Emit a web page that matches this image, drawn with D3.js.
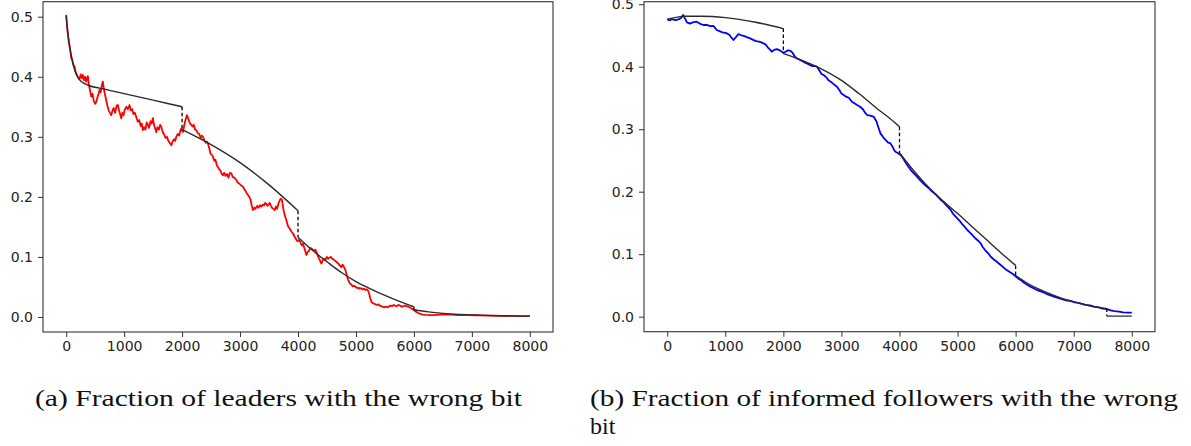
<!DOCTYPE html>
<html>
<head>
<meta charset="utf-8">
<script src="https://d3js.org/d3.v7.min.js"></script>
<style>
body { margin: 0; padding: 0; background: #fff; }
svg text { font-family: "DejaVu Sans", sans-serif; }
.caption { font-family: "Liberation Serif", "DejaVu Serif", serif; fill: #111; }
</style>
</head>
<body>
<svg id="chart" width="1191" height="446"></svg>
<script>
// ---- data ----
var xTicks = [0, 1000, 2000, 3000, 4000, 5000, 6000, 7000, 8000];
var yTicks = [0.0, 0.1, 0.2, 0.3, 0.4, 0.5];

// (a) leaders: simulated fraction (red)
var leadersSim = [
[0,0.503],[15,0.485],[28,0.472],[45,0.458],[69,0.445],[85,0.432],[104,0.428],[125,0.420],[143,0.417],[165,0.408],
[184,0.403],[205,0.399],[230,0.396],[250,0.404],[268,0.398],[287,0.403],[305,0.394],[325,0.400],[345,0.392],[360,0.398],
[374,0.401],[390,0.388],[410,0.378],[432,0.367],[455,0.372],[475,0.360],[500,0.355],[518,0.358],[540,0.366],[560,0.372],
[575,0.378],[595,0.374],[615,0.386],[633,0.392],[650,0.380],[670,0.370],[691,0.361],[710,0.352],[730,0.345],[755,0.340],
[777,0.336],[800,0.344],[820,0.348],[845,0.340],[870,0.352],[892,0.353],[910,0.345],[930,0.338],[950,0.331],[970,0.340],
[990,0.336],[1010,0.345],[1040,0.350],[1065,0.346],[1093,0.353],[1115,0.344],[1140,0.346],[1160,0.338],[1185,0.340],[1209,0.333],
[1235,0.325],[1260,0.328],[1285,0.318],[1305,0.322],[1324,0.311],[1345,0.316],[1368,0.312],[1390,0.324],[1410,0.320],[1430,0.315],
[1455,0.326],[1475,0.322],[1496,0.331],[1515,0.320],[1535,0.314],[1554,0.308],[1575,0.316],[1600,0.312],[1621,0.320],[1641,0.317],
[1665,0.308],[1690,0.304],[1715,0.298],[1740,0.300],[1760,0.294],[1785,0.290],[1813,0.286],[1835,0.292],[1860,0.296],[1880,0.293],
[1900,0.300],[1925,0.305],[1950,0.302],[1970,0.310],[1986,0.314],[2000,0.310],[2015,0.308],[2035,0.318],[2050,0.325],[2065,0.330],
[2083,0.336],[2100,0.332],[2120,0.326],[2140,0.322],[2159,0.320],[2180,0.317],[2200,0.320],[2225,0.312],[2245,0.311],[2270,0.306],
[2295,0.305],[2320,0.298],[2340,0.302],[2360,0.300],[2385,0.294],[2410,0.290],[2430,0.292],[2446,0.289],[2470,0.280],[2490,0.272],
[2515,0.270],[2532,0.267],[2555,0.260],[2575,0.262],[2600,0.252],[2618,0.250],[2640,0.246],[2660,0.244],[2685,0.238],[2705,0.236],
[2725,0.240],[2750,0.235],[2775,0.238],[2800,0.232],[2825,0.240],[2850,0.239],[2875,0.233],[2900,0.232],[2920,0.230],[2936,0.228],
[2960,0.224],[2985,0.222],[3010,0.220],[3030,0.218],[3051,0.217],[3075,0.212],[3095,0.210],[3115,0.206],[3137,0.203],[3160,0.200],
[3180,0.196],[3200,0.186],[3223,0.178],[3245,0.182],[3265,0.180],[3281,0.183],[3300,0.185],[3320,0.182],[3345,0.186],[3370,0.184],
[3390,0.187],[3415,0.186],[3435,0.190],[3454,0.188],[3475,0.185],[3495,0.188],[3512,0.190],[3530,0.186],[3550,0.182],[3575,0.180],
[3598,0.178],[3620,0.184],[3640,0.180],[3660,0.188],[3684,0.194],[3700,0.197],[3720,0.196],[3735,0.188],[3750,0.178],[3770,0.170],
[3800,0.161],[3825,0.152],[3850,0.148],[3870,0.145],[3890,0.142],[3914,0.139],[3940,0.134],[3965,0.130],[3990,0.126],[4010,0.128],
[4030,0.127],[4050,0.122],[4070,0.119],[4087,0.122],[4105,0.116],[4125,0.110],[4145,0.103],[4165,0.108],[4190,0.110],[4210,0.115],
[4231,0.114],[4255,0.112],[4280,0.110],[4300,0.112],[4318,0.108],[4340,0.102],[4360,0.098],[4380,0.094],[4404,0.089],[4425,0.094],
[4450,0.097],[4475,0.096],[4500,0.100],[4519,0.097],[4545,0.099],[4570,0.100],[4590,0.097],[4612,0.096],[4634,0.094],[4660,0.092],
[4685,0.090],[4710,0.087],[4730,0.085],[4750,0.083],[4770,0.087],[4790,0.084],[4810,0.080],[4825,0.076],[4845,0.068],[4865,0.062],
[4893,0.056],[4920,0.054],[4945,0.051],[4970,0.052],[4995,0.050],[5020,0.048],[5045,0.049],[5066,0.047],[5090,0.048],[5115,0.046],
[5140,0.047],[5165,0.045],[5190,0.046],[5209,0.044],[5230,0.038],[5250,0.030],[5267,0.025],[5290,0.023],[5315,0.022],[5340,0.021],
[5365,0.020],[5390,0.021],[5411,0.019],[5435,0.018],[5460,0.017],[5485,0.016],[5505,0.017],[5527,0.017],[5550,0.016],[5575,0.018],
[5600,0.019],[5625,0.018],[5650,0.020],[5670,0.019],[5700,0.018],[5730,0.020],[5760,0.019],[5790,0.017],[5820,0.018],[5850,0.019],
[5872,0.018],[5900,0.017],[5930,0.016],[5959,0.014],[5990,0.012],[6030,0.009],[6065,0.007],[6102,0.0055],[6150,0.004],[6200,0.0035],
[6275,0.003],[6350,0.0032],[6450,0.004],[6563,0.004],[6650,0.0038],[6750,0.0033],[6850,0.003],[6950,0.0031],[7050,0.0029],[7138,0.0028],
[7300,0.0024],[7500,0.002],[7700,0.0017],[7850,0.0016],[8000,0.0015]
];

// (a) fitted pieces (black), one per 2000-step phase
var leadersFit = [
  [[0,0.502],[20,0.48],[40,0.465],[70,0.445],[100,0.43],[135,0.415],[170,0.405],[215,0.397],[260,0.392],[330,0.388],[400,0.385],[575,0.381],[1000,0.372],[1500,0.361],[2000,0.350]],
  [[2000,0.312],[2500,0.287],[3000,0.257],[3500,0.220],[4000,0.177]],
  [[4000,0.133],[4250,0.111],[4500,0.092],[4750,0.074],[5000,0.059],[5250,0.047],[5500,0.036],[5750,0.026],[6000,0.017]],
  [[6000,0.012],[6250,0.0085],[6500,0.006],[7000,0.0035],[7500,0.002],[8000,0.0015]]
];
var leadersJumps = [[2000,0.350,0.312],[4000,0.177,0.133],[6000,0.017,0.012]];

// (b) informed followers: simulated fraction (blue)
var followersSim = [
[0,0.476],[40,0.474],[80,0.476],[120,0.475],[162,0.4747],[200,0.476],[240,0.478],[276,0.4827],[300,0.478],[340,0.471],
[392,0.469],[440,0.471],[507,0.472],[560,0.469],[622,0.4667],[680,0.467],[740,0.465],[794,0.4653],[825,0.462],[852,0.4587],
[900,0.457],[950,0.455],[1000,0.454],[1025,0.4533],[1070,0.451],[1110,0.446],[1140,0.4427],[1180,0.447],[1226,0.4523],[1280,0.450],
[1330,0.449],[1380,0.447],[1428,0.4453],[1480,0.443],[1530,0.441],[1580,0.440],[1620,0.439],[1658,0.4373],[1700,0.435],[1740,0.430],
[1775,0.427],[1802,0.424],[1840,0.427],[1888,0.428],[1940,0.426],[1975,0.424],[2003,0.4224],[2040,0.424],[2070,0.426],[2118,0.4256],
[2160,0.422],[2200,0.416],[2233,0.4133],[2280,0.411],[2320,0.409],[2360,0.407],[2406,0.4053],[2450,0.403],[2500,0.401],[2540,0.401],
[2579,0.400],[2620,0.394],[2660,0.388],[2693,0.3867],[2740,0.383],[2780,0.378],[2830,0.375],[2880,0.371],[2924,0.368],[2970,0.362],
[3000,0.357],[3039,0.3547],[3080,0.352],[3130,0.350],[3180,0.344],[3230,0.341],[3269,0.3387],[3320,0.336],[3370,0.332],[3410,0.326],
[3442,0.3227],[3480,0.322],[3520,0.321],[3556,0.320],[3600,0.313],[3640,0.302],[3672,0.2933],[3720,0.287],[3760,0.283],[3800,0.279],
[3844,0.2773],[3880,0.272],[3910,0.266],[3930,0.264],[3970,0.262],[4017,0.2587],[4060,0.254],[4110,0.246],[4160,0.239],[4200,0.234],
[4247,0.2293],[4300,0.224],[4350,0.219],[4400,0.214],[4450,0.210],[4500,0.206],[4535,0.2027],[4580,0.199],[4620,0.196],[4660,0.192],
[4700,0.188],[4750,0.184],[4800,0.179],[4840,0.175],[4880,0.171],[4920,0.165],[4960,0.161],[4995,0.1573],[5040,0.153],[5080,0.148],
[5130,0.143],[5168,0.1387],[5210,0.135],[5260,0.130],[5300,0.126],[5350,0.122],[5398,0.1173],[5430,0.112],[5470,0.107],[5510,0.103],
[5540,0.100],[5571,0.096],[5620,0.092],[5660,0.089],[5700,0.086],[5743,0.0827],[5790,0.079],[5840,0.075],[5890,0.072],[5940,0.069],
[5974,0.0667],[6020,0.063],[6060,0.060],[6100,0.058],[6150,0.054],[6200,0.051],[6234,0.049],[6300,0.046],[6360,0.043],[6420,0.041],
[6480,0.039],[6540,0.036],[6600,0.034],[6663,0.032],[6730,0.030],[6800,0.028],[6870,0.026],[6950,0.025],[7020,0.023],[7080,0.022],
[7124,0.021],[7200,0.019],[7280,0.018],[7350,0.016],[7430,0.015],[7500,0.013],[7573,0.012],[7640,0.010],[7700,0.009],[7780,0.008],
[7850,0.007],[7930,0.0066],[8000,0.0064]
];

var followersFit = [
  [[0,0.476],[150,0.479],[300,0.4808],[600,0.4808],[1000,0.4785],[1500,0.4715],[2000,0.461]],
  [[2000,0.421],[2300,0.411],[2600,0.399],[3000,0.378],[3300,0.357],[3600,0.334],[3850,0.316],[4000,0.304]],
  [[4000,0.262],[4250,0.233],[4500,0.207],[4750,0.185],[5000,0.165],[5250,0.144],[5500,0.123],[5750,0.102],[6000,0.082]],
  [[6000,0.066],[6250,0.051],[6500,0.040],[6750,0.031],[7000,0.024],[7250,0.018],[7570,0.013]],
  [[7570,0.001],[8000,0.001]]
];
var followersJumps = [[2000,0.461,0.421],[4000,0.304,0.262],[6000,0.082,0.066],[7570,0.013,0.001]];

var captionA = "(a) Fraction of leaders with the wrong bit";
var captionB1 = "(b) Fraction of informed followers with the wrong";
var captionB2 = "bit";

var svg = d3.select("#chart");

function panel(id, box, yDom, sim, simColor, fits, jumps) {
  var x = d3.scaleLinear().domain([-400, 8400]).range([box.left, box.right]);
  var y = d3.scaleLinear().domain(yDom).range([box.bottom, box.top]);

  svg.append("clipPath").attr("id", id)
    .append("rect")
    .attr("x", box.left).attr("y", box.top)
    .attr("width", box.right - box.left).attr("height", box.bottom - box.top);

  var g = svg.append("g").attr("clip-path", "url(#" + id + ")");
  var line = d3.line().x(function(d) { return x(d[0]); }).y(function(d) { return y(d[1]); });
  var smooth = d3.line().curve(d3.curveMonotoneX)
    .x(function(d) { return x(d[0]); }).y(function(d) { return y(d[1]); });

  g.append("path").datum(sim)
    .attr("d", line)
    .attr("fill", "none").attr("stroke", simColor).attr("stroke-width", 1.8)
    .attr("stroke-linejoin", "round");

  g.selectAll(".fit").data(fits).enter().append("path")
    .attr("class", "fit")
    .attr("d", smooth)
    .attr("fill", "none").attr("stroke", "#2b2b2b").attr("stroke-width", 1.4);

  g.selectAll(".jump").data(jumps).enter().append("line")
    .attr("class", "jump")
    .attr("x1", function(d) { return x(d[0]); }).attr("x2", function(d) { return x(d[0]); })
    .attr("y1", function(d) { return y(d[1]); }).attr("y2", function(d) { return y(d[2]); })
    .attr("stroke", "#000").attr("stroke-width", 1.3).attr("stroke-dasharray", "3.5,2.5");

  // frame
  svg.append("rect")
    .attr("x", box.left).attr("y", box.top)
    .attr("width", box.right - box.left).attr("height", box.bottom - box.top)
    .attr("fill", "none").attr("stroke", "#333").attr("stroke-width", 1.1);

  var xAxis = svg.append("g")
    .attr("transform", "translate(0," + box.bottom + ")")
    .call(d3.axisBottom(x).tickValues(xTicks).tickSize(5).tickPadding(4).tickFormat(d3.format("d")));
  var yAxis = svg.append("g")
    .attr("transform", "translate(" + box.left + ",0)")
    .call(d3.axisLeft(y).tickValues(yTicks).tickSize(5).tickPadding(5).tickFormat(d3.format(".1f")));

  [xAxis, yAxis].forEach(function(a) {
    a.select(".domain").remove();
    a.selectAll(".tick line").attr("stroke", "#333");
    a.selectAll(".tick text").attr("fill", "#222").style("font-size", "14px");
  });
}

panel("clipA", {left: 43, right: 553, top: 1.7, bottom: 332}, [-0.025, 0.525],
      leadersSim, "#ff0000", leadersFit, leadersJumps);
panel("clipB", {left: 644, right: 1155, top: 1.7, bottom: 331.7}, [-0.024, 0.504],
      followersSim, "#0000ff", followersFit, followersJumps);

svg.append("text").attr("class", "caption")
  .attr("x", 35).attr("y", 406).style("font-size", "24px")
  .attr("textLength", 487).attr("lengthAdjust", "spacingAndGlyphs")
  .text(captionA);
svg.append("text").attr("class", "caption")
  .attr("x", 590).attr("y", 406).style("font-size", "24px")
  .attr("textLength", 588).attr("lengthAdjust", "spacingAndGlyphs")
  .text(captionB1);
svg.append("text").attr("class", "caption")
  .attr("x", 590).attr("y", 434).style("font-size", "24px")
  .text(captionB2);
</script>
</body>
</html>
